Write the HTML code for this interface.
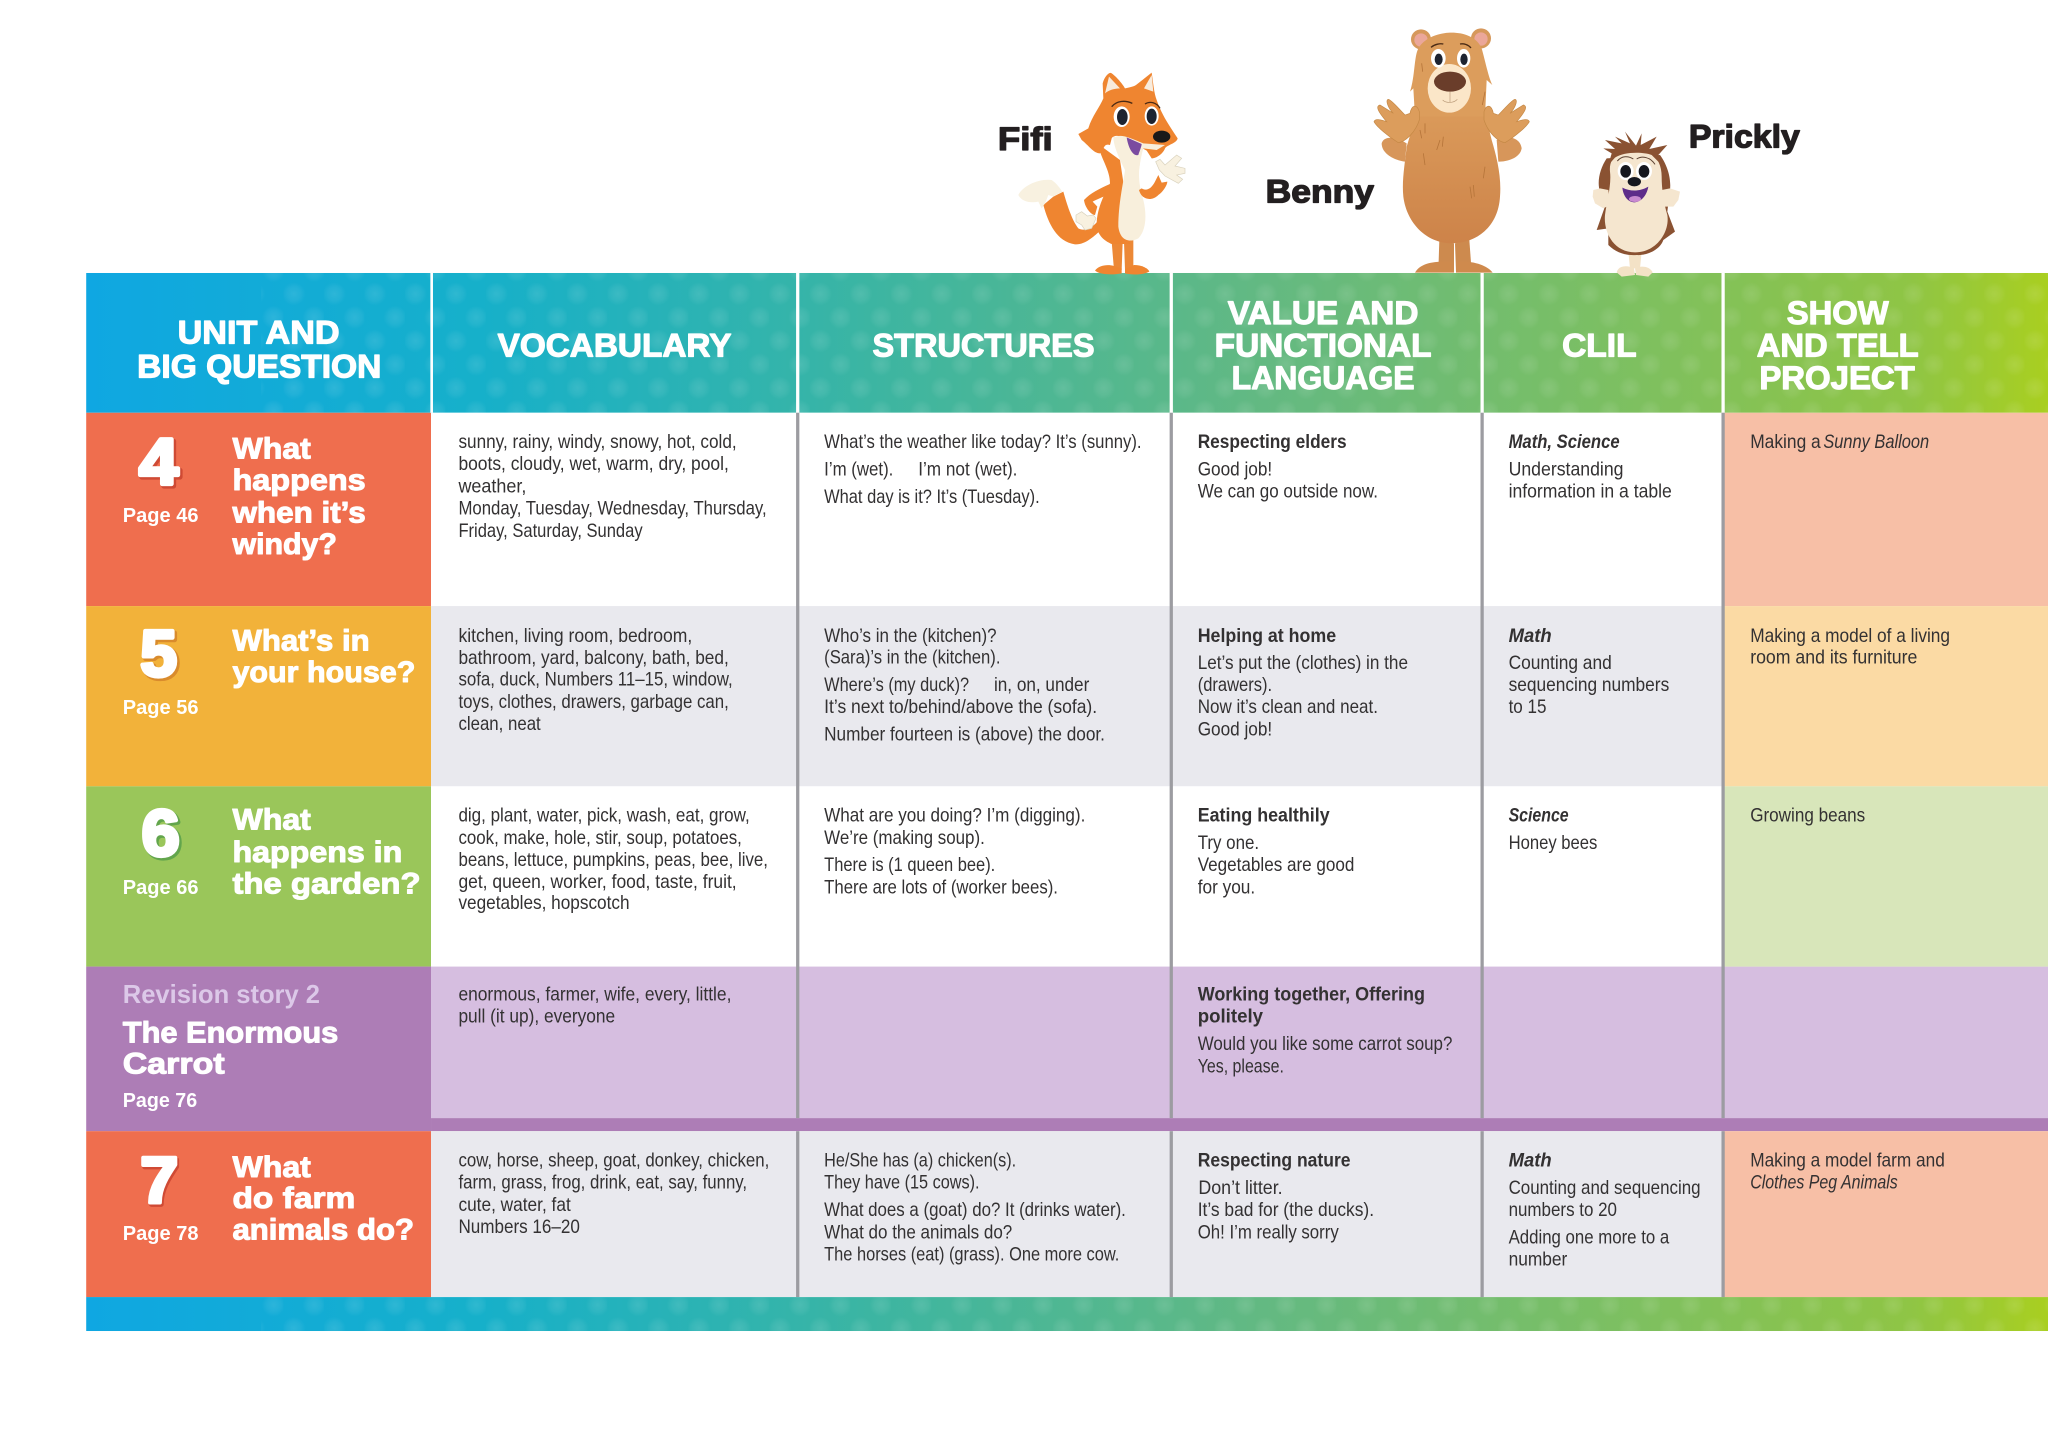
<!DOCTYPE html>
<html><head><meta charset="utf-8"><style>
html,body{margin:0;padding:0;background:#fff;width:2048px;height:1447px;overflow:hidden}
svg{display:block}
text{font-family:"Liberation Sans",sans-serif}
.t text,text.t{font-size:14.6px;fill:#333132}
text.b{font-weight:bold}
text.i{font-style:italic}
text.bi{font-weight:bold;font-style:italic}
.h text{font-size:25px;font-weight:bold;fill:#fff;stroke:#fff;stroke-width:.9;stroke-linejoin:round}
.q text{font-size:23px;font-weight:bold;fill:#fff;stroke:#fff;stroke-width:.8;stroke-linejoin:round}
.p text{font-size:15.5px;font-weight:bold;fill:#fff}
.n{font-size:50px;font-weight:bold;stroke-linejoin:round}
.c text{font-size:25px;font-weight:bold;fill:#231f20;stroke:#231f20;stroke-width:1;stroke-linejoin:round}
</style></head><body>
<svg xmlns="http://www.w3.org/2000/svg" width="2048" height="1447" viewBox="0 0 1568 1107.8" preserveAspectRatio="none">
<defs>
<linearGradient id="g" gradientUnits="userSpaceOnUse" x1="66" y1="0" x2="1568" y2="0">
<stop offset="0" stop-color="#0fa7e2"/><stop offset=".2" stop-color="#16b0ca"/><stop offset=".4" stop-color="#3cb5a2"/><stop offset=".6" stop-color="#63b982"/><stop offset=".8" stop-color="#7fc05e"/><stop offset=".93" stop-color="#8fc545"/><stop offset="1" stop-color="#a9cf20"/>
</linearGradient>
<radialGradient id="d"><stop offset="0" stop-color="#fff" stop-opacity=".11"/><stop offset=".6" stop-color="#fff" stop-opacity=".06"/><stop offset="1" stop-color="#fff" stop-opacity="0"/></radialGradient>
<pattern id="dots" patternUnits="userSpaceOnUse" width="31" height="36">
<circle cx="8" cy="9" r="9" fill="url(#d)"/><circle cx="23.5" cy="27" r="9" fill="url(#d)"/>
</pattern>
<linearGradient id="bear" x1="0" y1="0" x2="0" y2="1"><stop offset="0" stop-color="#dc9d5c"/><stop offset="1" stop-color="#cd8349"/></linearGradient>
</defs>

<!-- header and footer bands -->
<rect x="66" y="209" width="1502" height="107" fill="url(#g)"/>
<rect x="200" y="209" width="1368" height="107" fill="url(#dots)"/>
<rect x="66" y="993" width="1502" height="26" fill="url(#g)"/>
<rect x="200" y="993" width="1368" height="26" fill="url(#dots)"/>

<!-- left column -->
<rect x="66" y="316" width="264" height="148" fill="#ef6e4e"/>
<rect x="66" y="464" width="264" height="138" fill="#f2b23a"/>
<rect x="66" y="602" width="264" height="138" fill="#9ac65a"/>
<rect x="66" y="740" width="264" height="126" fill="#ad7db6"/>
<rect x="66" y="866" width="264" height="127" fill="#ef6e4e"/>

<!-- body rows -->
<rect x="330" y="316" width="989" height="148" fill="#fff"/>
<rect x="330" y="464" width="989" height="138" fill="#e9e9ee"/>
<rect x="330" y="602" width="989" height="138" fill="#fff"/>
<rect x="330" y="740" width="1238" height="116" fill="#d6bee0"/>
<rect x="330" y="856" width="1238" height="10" fill="#ad7db6"/>
<rect x="330" y="866" width="989" height="127" fill="#e9e9ee"/>
<rect x="1319" y="316" width="249" height="148" fill="#f7bfa6"/>
<rect x="1319" y="464" width="249" height="138" fill="#fbdaa4"/>
<rect x="1319" y="602" width="249" height="138" fill="#d8e6ba"/>
<rect x="1319" y="866" width="249" height="127" fill="#f7bfa6"/>

<!-- dividers -->
<g fill="#fff">
<rect x="329.5" y="209" width="2" height="107"/><rect x="609.5" y="209" width="2.5" height="107"/><rect x="895.5" y="209" width="2.5" height="107"/><rect x="1133.5" y="209" width="2.5" height="107"/><rect x="1318" y="209" width="2.5" height="107"/>
</g>
<g fill="#9c9ca1">
<rect x="609.5" y="316" width="2.5" height="540"/><rect x="895.5" y="316" width="2.5" height="540"/><rect x="1133.5" y="316" width="2.5" height="540"/><rect x="1318" y="316" width="2.5" height="540"/>
<rect x="609.5" y="866" width="2.5" height="127"/><rect x="895.5" y="866" width="2.5" height="127"/><rect x="1133.5" y="866" width="2.5" height="127"/><rect x="1318" y="866" width="2.5" height="127"/>
</g>

<!-- header text -->
<g class="h">
<text x="136" y="263" textLength="124" lengthAdjust="spacingAndGlyphs">UNIT AND</text>
<text x="105" y="289" textLength="187" lengthAdjust="spacingAndGlyphs">BIG QUESTION</text>
<text x="381" y="273" textLength="179" lengthAdjust="spacingAndGlyphs">VOCABULARY</text>
<text x="668" y="273" textLength="170" lengthAdjust="spacingAndGlyphs">STRUCTURES</text>
<text x="940" y="248" textLength="146" lengthAdjust="spacingAndGlyphs">VALUE AND</text>
<text x="930" y="273" textLength="166" lengthAdjust="spacingAndGlyphs">FUNCTIONAL</text>
<text x="943" y="298" textLength="140" lengthAdjust="spacingAndGlyphs">LANGUAGE</text>
<text x="1196" y="273" textLength="57" lengthAdjust="spacingAndGlyphs">CLIL</text>
<text x="1368" y="248" textLength="78" lengthAdjust="spacingAndGlyphs">SHOW</text>
<text x="1345" y="273" textLength="124" lengthAdjust="spacingAndGlyphs">AND TELL</text>
<text x="1347" y="298" textLength="119" lengthAdjust="spacingAndGlyphs">PROJECT</text>
</g>

<!-- numerals -->
<text class="n" x="108" y="372" textLength="30" lengthAdjust="spacingAndGlyphs" fill="#cf4a34" stroke="#cf4a34" stroke-width="4">4</text>
<text class="n" x="106.5" y="370.5" textLength="30" lengthAdjust="spacingAndGlyphs" fill="#fff" stroke="#fff" stroke-width="3.2">4</text>
<text class="n" x="109" y="519" textLength="28" lengthAdjust="spacingAndGlyphs" fill="#d98b2c" stroke="#d98b2c" stroke-width="4">5</text>
<text class="n" x="107.5" y="517.5" textLength="28" lengthAdjust="spacingAndGlyphs" fill="#fff" stroke="#fff" stroke-width="3.2">5</text>
<text class="n" x="110" y="656.5" textLength="29" lengthAdjust="spacingAndGlyphs" fill="#62a54c" stroke="#62a54c" stroke-width="4">6</text>
<text class="n" x="108.5" y="655" textLength="29" lengthAdjust="spacingAndGlyphs" fill="#fff" stroke="#fff" stroke-width="3.2">6</text>
<text class="n" x="108.5" y="922" textLength="29" lengthAdjust="spacingAndGlyphs" fill="#cf4a34" stroke="#cf4a34" stroke-width="3.6">7</text>
<text class="n" x="107.5" y="920.5" textLength="29" lengthAdjust="spacingAndGlyphs" fill="#fff" stroke="#fff" stroke-width="3">7</text>

<!-- page labels -->
<g class="p">
<text x="94" y="399.5" textLength="58" lengthAdjust="spacingAndGlyphs">Page 46</text>
<text x="94" y="546.5" textLength="58" lengthAdjust="spacingAndGlyphs">Page 56</text>
<text x="94" y="684.5" textLength="58" lengthAdjust="spacingAndGlyphs">Page 66</text>
<text x="94" y="949.5" textLength="58" lengthAdjust="spacingAndGlyphs">Page 78</text>
<text x="94" y="847.5" textLength="57" lengthAdjust="spacingAndGlyphs">Page 76</text>
<text x="94" y="768" textLength="151" lengthAdjust="spacingAndGlyphs" style="font-size:20px;fill:#dcc8e8">Revision story 2</text>
</g>

<!-- questions -->
<g class="q">
<text x="178" y="351" textLength="60" lengthAdjust="spacingAndGlyphs">What</text>
<text x="178" y="375" textLength="102" lengthAdjust="spacingAndGlyphs">happens</text>
<text x="178" y="400" textLength="102" lengthAdjust="spacingAndGlyphs">when it’s</text>
<text x="178" y="424" textLength="80" lengthAdjust="spacingAndGlyphs">windy?</text>
<text x="178" y="498" textLength="105" lengthAdjust="spacingAndGlyphs">What’s in</text>
<text x="178" y="522" textLength="140" lengthAdjust="spacingAndGlyphs">your house?</text>
<text x="178" y="635" textLength="60" lengthAdjust="spacingAndGlyphs">What</text>
<text x="178" y="660" textLength="130" lengthAdjust="spacingAndGlyphs">happens in</text>
<text x="178" y="684" textLength="144" lengthAdjust="spacingAndGlyphs">the garden?</text>
<text x="94" y="798" textLength="165" lengthAdjust="spacingAndGlyphs">The Enormous</text>
<text x="94" y="822" textLength="78" lengthAdjust="spacingAndGlyphs">Carrot</text>
<text x="178" y="901" textLength="60" lengthAdjust="spacingAndGlyphs">What</text>
<text x="178" y="925" textLength="94" lengthAdjust="spacingAndGlyphs">do farm</text>
<text x="178" y="949" textLength="139" lengthAdjust="spacingAndGlyphs">animals do?</text>
</g>

<!-- body text -->
<g class="t">
<text x="351" y="343" textLength="213" lengthAdjust="spacingAndGlyphs">sunny, rainy, windy, snowy, hot, cold,</text>
<text x="351" y="360" textLength="207" lengthAdjust="spacingAndGlyphs">boots, cloudy, wet, warm, dry, pool,</text>
<text x="351" y="377" textLength="52" lengthAdjust="spacingAndGlyphs">weather,</text>
<text x="351" y="394" textLength="236" lengthAdjust="spacingAndGlyphs">Monday, Tuesday, Wednesday, Thursday,</text>
<text x="351" y="411" textLength="141" lengthAdjust="spacingAndGlyphs">Friday, Saturday, Sunday</text>
<text x="351" y="491.5" textLength="179" lengthAdjust="spacingAndGlyphs">kitchen, living room, bedroom,</text>
<text x="351" y="508.5" textLength="207" lengthAdjust="spacingAndGlyphs">bathroom, yard, balcony, bath, bed,</text>
<text x="351" y="525" textLength="210" lengthAdjust="spacingAndGlyphs">sofa, duck, Numbers 11–15, window,</text>
<text x="351" y="542" textLength="207" lengthAdjust="spacingAndGlyphs">toys, clothes, drawers, garbage can,</text>
<text x="351" y="559" textLength="63" lengthAdjust="spacingAndGlyphs">clean, neat</text>
<text x="351" y="629" textLength="223" lengthAdjust="spacingAndGlyphs">dig, plant, water, pick, wash, eat, grow,</text>
<text x="351" y="646" textLength="217" lengthAdjust="spacingAndGlyphs">cook, make, hole, stir, soup, potatoes,</text>
<text x="351" y="663" textLength="237" lengthAdjust="spacingAndGlyphs">beans, lettuce, pumpkins, peas, bee, live,</text>
<text x="351" y="680" textLength="213" lengthAdjust="spacingAndGlyphs">get, queen, worker, food, taste, fruit,</text>
<text x="351" y="696" textLength="131" lengthAdjust="spacingAndGlyphs">vegetables, hopscotch</text>
<text x="351" y="766" textLength="209" lengthAdjust="spacingAndGlyphs">enormous, farmer, wife, every, little,</text>
<text x="351" y="783" textLength="120" lengthAdjust="spacingAndGlyphs">pull (it up), everyone</text>
<text x="351" y="893" textLength="238" lengthAdjust="spacingAndGlyphs">cow, horse, sheep, goat, donkey, chicken,</text>
<text x="351" y="910" textLength="221" lengthAdjust="spacingAndGlyphs">farm, grass, frog, drink, eat, say, funny,</text>
<text x="351" y="927" textLength="86" lengthAdjust="spacingAndGlyphs">cute, water, fat</text>
<text x="351" y="944" textLength="93" lengthAdjust="spacingAndGlyphs">Numbers 16–20</text>
<text x="631" y="343" textLength="243" lengthAdjust="spacingAndGlyphs">What’s the weather like today? It’s (sunny).</text>
<text x="631" y="364" textLength="53" lengthAdjust="spacingAndGlyphs">I’m (wet).</text>
<text x="703" y="364" textLength="76" lengthAdjust="spacingAndGlyphs">I’m not (wet).</text>
<text x="631" y="385" textLength="165" lengthAdjust="spacingAndGlyphs">What day is it? It’s (Tuesday).</text>
<text x="631" y="491.5" textLength="132" lengthAdjust="spacingAndGlyphs">Who’s in the (kitchen)?</text>
<text x="631" y="508" textLength="135" lengthAdjust="spacingAndGlyphs">(Sara)’s in the (kitchen).</text>
<text x="631" y="529" textLength="111" lengthAdjust="spacingAndGlyphs">Where’s (my duck)?</text>
<text x="761" y="529" textLength="73" lengthAdjust="spacingAndGlyphs">in, on, under</text>
<text x="631" y="546" textLength="209" lengthAdjust="spacingAndGlyphs">It’s next to/behind/above the (sofa).</text>
<text x="631" y="567" textLength="215" lengthAdjust="spacingAndGlyphs">Number fourteen is (above) the door.</text>
<text x="631" y="629" textLength="200" lengthAdjust="spacingAndGlyphs">What are you doing? I’m (digging).</text>
<text x="631" y="646" textLength="123" lengthAdjust="spacingAndGlyphs">We’re (making soup).</text>
<text x="631" y="667" textLength="131" lengthAdjust="spacingAndGlyphs">There is (1 queen bee).</text>
<text x="631" y="684" textLength="179" lengthAdjust="spacingAndGlyphs">There are lots of (worker bees).</text>
<text x="631" y="893" textLength="147" lengthAdjust="spacingAndGlyphs">He/She has (a) chicken(s).</text>
<text x="631" y="910" textLength="119" lengthAdjust="spacingAndGlyphs">They have (15 cows).</text>
<text x="631" y="931" textLength="231" lengthAdjust="spacingAndGlyphs">What does a (goat) do? It (drinks water).</text>
<text x="631" y="948" textLength="144" lengthAdjust="spacingAndGlyphs">What do the animals do?</text>
<text x="631" y="965" textLength="226" lengthAdjust="spacingAndGlyphs">The horses (eat) (grass). One more cow.</text>
<text class="b" x="917" y="343" textLength="114" lengthAdjust="spacingAndGlyphs">Respecting elders</text>
<text x="917" y="364" textLength="57" lengthAdjust="spacingAndGlyphs">Good job!</text>
<text x="917" y="381" textLength="138" lengthAdjust="spacingAndGlyphs">We can go outside now.</text>
<text class="b" x="917" y="491.5" textLength="106" lengthAdjust="spacingAndGlyphs">Helping at home</text>
<text x="917" y="512" textLength="161" lengthAdjust="spacingAndGlyphs">Let’s put the (clothes) in the</text>
<text x="917" y="529" textLength="57" lengthAdjust="spacingAndGlyphs">(drawers).</text>
<text x="917" y="546" textLength="138" lengthAdjust="spacingAndGlyphs">Now it’s clean and neat.</text>
<text x="917" y="563" textLength="57" lengthAdjust="spacingAndGlyphs">Good job!</text>
<text class="b" x="917" y="629" textLength="101" lengthAdjust="spacingAndGlyphs">Eating healthily</text>
<text x="917" y="650" textLength="47" lengthAdjust="spacingAndGlyphs">Try one.</text>
<text x="917" y="667" textLength="120" lengthAdjust="spacingAndGlyphs">Vegetables are good</text>
<text x="917" y="684" textLength="44" lengthAdjust="spacingAndGlyphs">for you.</text>
<text class="b" x="917" y="766" textLength="174" lengthAdjust="spacingAndGlyphs">Working together, Offering</text>
<text class="b" x="917" y="783" textLength="50" lengthAdjust="spacingAndGlyphs">politely</text>
<text x="917" y="804" textLength="195" lengthAdjust="spacingAndGlyphs">Would you like some carrot soup?</text>
<text x="917" y="821" textLength="66" lengthAdjust="spacingAndGlyphs">Yes, please.</text>
<text class="b" x="917" y="893" textLength="117" lengthAdjust="spacingAndGlyphs">Respecting nature</text>
<text x="917.5" y="914" textLength="64.5" lengthAdjust="spacingAndGlyphs">Don’t litter.</text>
<text x="917" y="931" textLength="135" lengthAdjust="spacingAndGlyphs">It’s bad for (the ducks).</text>
<text x="917" y="948" textLength="108" lengthAdjust="spacingAndGlyphs">Oh! I’m really sorry</text>
<text class="bi" x="1155" y="343" textLength="85" lengthAdjust="spacingAndGlyphs">Math, Science</text>
<text x="1155" y="364" textLength="88" lengthAdjust="spacingAndGlyphs">Understanding</text>
<text x="1155" y="381" textLength="125" lengthAdjust="spacingAndGlyphs">information in a table</text>
<text class="bi" x="1155" y="491.5" textLength="33" lengthAdjust="spacingAndGlyphs">Math</text>
<text x="1155" y="512" textLength="79" lengthAdjust="spacingAndGlyphs">Counting and</text>
<text x="1155" y="529" textLength="123" lengthAdjust="spacingAndGlyphs">sequencing numbers</text>
<text x="1155" y="546" textLength="29" lengthAdjust="spacingAndGlyphs">to 15</text>
<text class="bi" x="1155" y="629" textLength="46" lengthAdjust="spacingAndGlyphs">Science</text>
<text x="1155" y="650" textLength="68" lengthAdjust="spacingAndGlyphs">Honey bees</text>
<text class="bi" x="1155" y="893" textLength="33" lengthAdjust="spacingAndGlyphs">Math</text>
<text x="1155" y="914" textLength="147" lengthAdjust="spacingAndGlyphs">Counting and sequencing</text>
<text x="1155" y="931" textLength="83" lengthAdjust="spacingAndGlyphs">numbers to 20</text>
<text x="1155" y="952" textLength="123" lengthAdjust="spacingAndGlyphs">Adding one more to a</text>
<text x="1155" y="969" textLength="45" lengthAdjust="spacingAndGlyphs">number</text>
<text x="1340" y="343" textLength="54" lengthAdjust="spacingAndGlyphs">Making a</text>
<text class="i" x="1396" y="343" textLength="81" lengthAdjust="spacingAndGlyphs">Sunny Balloon</text>
<text x="1340" y="491.5" textLength="153" lengthAdjust="spacingAndGlyphs">Making a model of a living</text>
<text x="1340" y="508" textLength="128" lengthAdjust="spacingAndGlyphs">room and its furniture</text>
<text x="1340" y="629" textLength="88" lengthAdjust="spacingAndGlyphs">Growing beans</text>
<text x="1340" y="893" textLength="149" lengthAdjust="spacingAndGlyphs">Making a model farm and</text>
<text class="i" x="1340" y="910" textLength="113" lengthAdjust="spacingAndGlyphs">Clothes Peg Animals</text>
</g>

<!-- character names -->
<g class="c">
<text x="764" y="115" textLength="42" lengthAdjust="spacingAndGlyphs">Fifi</text>
<text x="969" y="155" textLength="83" lengthAdjust="spacingAndGlyphs">Benny</text>
<text x="1293" y="113" textLength="85" lengthAdjust="spacingAndGlyphs">Prickly</text>
</g>

<!-- fox -->
<g transform="scale(.765625) translate(1010,60) scale(.33333)">
<path d="M100,435 C115,490 140,545 195,553 C225,555 250,530 268,515 L262,485 C245,505 225,515 205,505 C185,480 170,430 160,395 L130,410 Z" fill="#ef8530"/>
<path d="M25,405 C40,375 90,355 125,360 C140,370 150,385 157,395 L130,410 L115,405 L105,430 L95,445 L85,425 C60,430 35,425 25,405 Z" fill="#f8f1e0"/>
<path d="M305,545 L338,545 L335,630 L312,630 Z" fill="#ec8836"/>
<path d="M342,545 L370,540 L370,625 L345,630 Z" fill="#ec8836"/>
<path d="M255,632 C265,615 295,612 312,618 L335,625 L335,640 C310,645 270,645 255,632 Z" fill="#ef8530"/>
<path d="M345,628 L372,615 C395,615 415,625 418,635 C400,645 365,645 345,640 Z" fill="#ef8530"/>
<path d="M262,250 C275,300 300,330 300,370 C285,400 262,440 260,490 C260,530 290,545 305,552 L360,552 L345,400 L330,300 Z" fill="#ef8530"/>
<path d="M310,230 C310,260 330,300 345,330 C340,370 325,430 325,500 C330,540 355,550 385,535 C410,510 410,460 400,420 C385,370 385,340 390,310 C375,290 350,260 345,235 Z" fill="#f8efdc"/>
<path d="M300,372 C270,385 240,400 222,420 C225,445 245,465 255,465 L262,440 L248,425 C265,415 285,410 298,400 Z" fill="#ef8530"/>
<path d="M198,465 L215,455 L232,468 L250,465 L258,475 L245,505 L225,510 L215,495 L198,485 Z" fill="#f8f1e0" stroke="#d9d2bd" stroke-width="2"/>
<path d="M387,390 C395,420 425,425 445,405 C460,395 472,375 472,365 L455,368 L445,345 L435,365 C425,385 410,395 395,385 Z" fill="#ef8530"/>
<path d="M437,305 L450,298 L465,315 L500,285 L515,295 L495,318 L525,325 L525,340 L500,345 L518,358 L505,370 L465,348 L448,330 Z" fill="#f8f1e0" stroke="#d9d2bd" stroke-width="2"/>
<path d="M280,115 L278,70 C285,45 300,35 305,40 C320,50 340,75 345,85 C360,82 370,80 378,75 L425,38 C430,70 432,100 440,120 C455,165 480,200 503,235 C500,250 470,255 465,265 C460,280 440,295 425,295 L410,272 L345,235 C330,225 310,225 305,235 L300,255 C280,250 285,265 270,280 C250,280 235,255 215,240 L205,222 L235,205 C245,170 270,140 280,115 Z" fill="#ef8530"/>
<path d="M285,100 L297,50 L330,85 C315,85 295,90 285,100 Z" fill="#f8ebdc"/>
<path d="M402,85 L425,45 L430,95 Z" fill="#f8ebdc"/>
<path d="M310,235 C330,220 350,230 400,250 L465,255 L440,270 L400,265 C390,300 390,320 385,335 C350,310 320,280 310,235 Z" fill="#f8efdc"/>
<path d="M350,232 C355,265 370,290 385,285 C390,270 395,258 395,252 Z" fill="#7b4ba0"/>
<path d="M305,140 C320,122 345,120 367,130 M405,132 C420,122 440,128 450,145" fill="none" stroke="#4a2a14" stroke-width="4"/>
<ellipse cx="335" cy="170" rx="24" ry="31" fill="#fff"/><ellipse cx="337" cy="171" rx="16" ry="24" fill="#1d2330"/>
<ellipse cx="425" cy="168" rx="21" ry="29" fill="#fff"/><ellipse cx="425" cy="169" rx="15" ry="23" fill="#1d2330"/>
<ellipse cx="455" cy="230" rx="26" ry="18" fill="#191919"/>
</g>

<!-- bear -->
<g transform="scale(.765625) translate(1360,20) scale(.33333)">
<path d="M65,370 C70,350 100,345 140,370 L135,425 C100,420 65,400 65,370 Z" fill="#d7965a"/>
<path d="M410,360 C440,345 480,350 485,385 C480,415 440,425 415,425 Z" fill="#d7965a"/>
<path d="M238,660 L282,670 L282,755 L235,755 Z" fill="#cd8a4e"/>
<path d="M285,670 L328,660 L335,755 L288,755 Z" fill="#cd8a4e"/>
<path d="M165,758 C180,730 220,722 280,725 L282,758 Z" fill="#cf8a4d"/>
<path d="M288,758 L288,725 C340,722 380,735 398,758 Z" fill="#cf8a4d"/>
<path d="M165,230 C170,290 155,330 140,380 C135,430 125,480 130,530 C140,610 200,670 275,670 C350,670 415,620 420,530 C425,470 410,410 395,360 C385,320 375,280 375,230 Z" fill="url(#bear)"/>
<circle cx="183" cy="58" r="30" fill="#d6985c"/><circle cx="183" cy="60" r="20" fill="#eba79a"/>
<circle cx="363" cy="55" r="30" fill="#d6985c"/><circle cx="363" cy="57" r="20" fill="#eba79a"/>
<path d="M150,215 C165,170 162,110 175,85 C200,45 250,38 275,38 C310,38 350,50 365,85 C375,120 385,170 397,195 L380,180 L375,290 L165,290 L160,205 Z" fill="#dc9d5c"/>
<path d="M178,275 C170,250 155,255 150,280 L135,285 C115,265 95,240 85,238 C75,240 85,265 100,280 L60,255 C48,258 50,270 80,305 C60,298 45,295 42,305 C50,320 85,350 115,368 C135,365 165,340 178,300 Z" fill="#dc9d5c" stroke="#c48845" stroke-width="2"/>
<path d="M372,275 C380,250 395,255 400,280 L415,285 C435,265 455,240 465,238 C475,240 465,265 450,280 L490,255 C502,258 500,270 470,305 C490,298 505,295 508,305 C500,320 465,350 435,368 C415,365 385,340 372,300 Z" fill="#dc9d5c" stroke="#c48845" stroke-width="2"/>
<ellipse cx="268" cy="205" rx="65" ry="73" fill="#fbe6c8"/>
<ellipse cx="270" cy="185" rx="48" ry="30" fill="#6a3d2a"/>
<path d="M248,240 C258,250 280,250 292,238 M270,215 L270,246" fill="none" stroke="#b99a78" stroke-width="2"/>
<ellipse cx="235" cy="115" rx="22" ry="28" fill="#fff"/><ellipse cx="236" cy="118" rx="12" ry="17" fill="#1d2330"/>
<ellipse cx="311" cy="115" rx="20" ry="28" fill="#fff"/><ellipse cx="312" cy="118" rx="11" ry="17" fill="#1d2330"/>
<path d="M213,82 C225,72 240,70 250,72 M300,72 C312,70 325,74 333,84" fill="none" stroke="#4a2a14" stroke-width="4"/>
<path d="M180,330 l5,25 M195,310 l0,30 M240,360 l-10,30 M250,350 l-3,30 M190,400 l5,35 M375,440 l-5,35 M330,500 l5,35 M340,495 l3,35 M375,215 l-8,40 M185,130 l3,25" stroke="#b6753a" stroke-width="2.5" fill="none"/>
</g>

<!-- hedgehog -->
<g transform="scale(.765625) translate(1580,125) scale(.33333)">
<path d="M145,380 L185,380 L180,430 L150,430 Z" fill="#f3e2c6"/>
<path d="M110,442 C115,420 145,420 162,430 L165,450 L125,455 Z" fill="#f3e2c6"/>
<path d="M165,430 C185,420 210,425 218,442 L205,455 L168,450 Z" fill="#f3e2c6"/>
<path d="M80,100 C60,130 50,170 60,200 L80,230 L50,315 L85,310 L85,360 C110,385 140,392 170,390 C200,392 240,375 250,345 L285,320 L262,260 L270,195 C275,150 255,110 240,90 Z" fill="#8a5232"/>
<path d="M90,140 C85,90 130,70 170,70 C215,70 245,105 245,155 C245,190 250,230 262,270 C270,320 230,382 165,382 C100,382 70,320 75,270 C80,230 95,180 90,140 Z" fill="#f5e6cf"/>
<path d="M75,45 L125,55 L105,35 L150,55 L135,20 L168,62 L185,25 L182,60 L230,35 L208,72 L262,60 L235,90 L245,120 L215,90 C190,80 130,80 105,98 L85,120 L95,85 L70,70 L105,72 Z" fill="#8a5232"/>
<path d="M85,195 L60,190 L40,195 L38,215 L45,235 L70,250 L90,240 Z" fill="#f5e6cf"/>
<path d="M245,195 L270,190 L300,200 L295,225 L280,245 L252,245 Z" fill="#f5e6cf"/>
<ellipse cx="137" cy="138" rx="24" ry="27" fill="#fff"/><ellipse cx="137" cy="139" rx="16" ry="19" fill="#15171e"/>
<ellipse cx="192" cy="138" rx="24" ry="27" fill="#fff"/><ellipse cx="192" cy="139" rx="16" ry="19" fill="#15171e"/>
<path d="M112,108 C125,92 145,92 160,102 M170,102 C185,92 210,95 225,118" fill="none" stroke="#5b4030" stroke-width="3"/>
<ellipse cx="163" cy="170" rx="20" ry="14" fill="#15171e"/>
<path d="M127,188 C150,200 180,200 205,185 C200,215 180,232 163,232 C145,232 130,215 127,188 Z" fill="#5e2d8a"/>
<ellipse cx="165" cy="222" rx="18" ry="9" fill="#c98ad0"/>
</g>
</svg>
</body></html>
